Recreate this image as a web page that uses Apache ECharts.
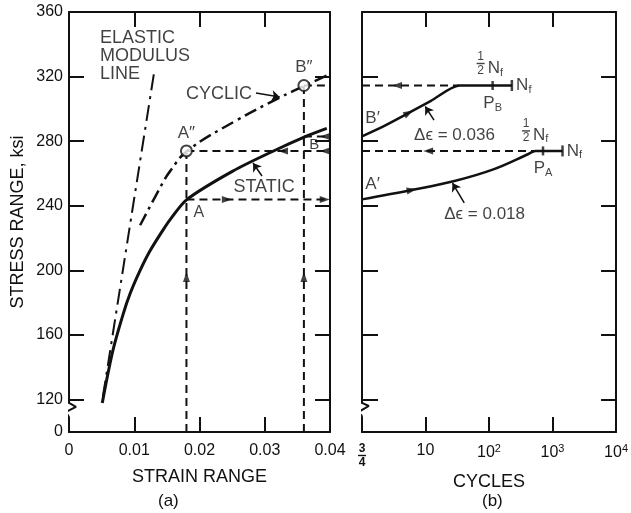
<!DOCTYPE html>
<html>
<head>
<meta charset="utf-8">
<script src="https://cdn.jsdelivr.net/npm/echarts@6.0.0/dist/echarts.min.js"></script>
<style>
html,body{margin:0;padding:0;background:#fff;}
#chart{width:631px;height:513px;}
</style>
</head>
<body>
<div id="chart"></div>
<script>
// ---------------- data ----------------
const stressTickValues  = [120, 160, 200, 240, 280, 320, 360];
const stressLabelValues = [100, 120, 160, 200, 240, 280, 320, 360]; // 100 = broken-axis origin, shown as "0"
const strainMin = 0, strainMax = 0.04, strainStep = 0.01;
const cycleMin = 1, cycleMax = 10000;

// (a) stress–strain curves
const staticStrain  = [0.0051, 0.0067, 0.0083, 0.0094, 0.0109, 0.0124, 0.0144, 0.0155, 0.0181, 0.0251, 0.0311, 0.0363, 0.0395];
const staticStress  = [118, 150, 173, 186, 200, 212, 225, 231.5, 244, 261.5, 273.5, 283, 288];
const cyclicStrain  = [0.0109, 0.0144, 0.0155, 0.0181, 0.0257, 0.0323, 0.0362, 0.0397];
const cyclicStress  = [228, 254.5, 261.5, 274, 293, 307, 314.5, 321];
const elasticStrain = [0.0052, 0.0131];
const elasticStress = [122, 324];

// test levels: A (Δε = 0.018) and B (Δε = 0.036)
const testStrain     = [0.018, 0.036];
const staticLevel    = [244, 283];     // A, B  (= A', B' at first cycle)
const cyclicLevel    = [274, 314.5];   // A'', B'' (= P_A, P_B)

// (b) stress vs cycles
const cyclesA = [1, 6.05, 28.6, 117, 418, 535, 708, 1436];
const stressA = [244, 249.8, 255.4, 262.6, 272.1, 274, 274, 274];
const cyclesB = [1, 2.25, 5.44, 12.2, 34, 114, 229];
const stressB = [283, 289.5, 297.5, 305, 314.5, 314.5, 314.5];
const kneeCycles  = [535, 34];
const halfNf      = [708, 114];
const Nf          = [1436, 229];

// arrowheads on guide lines and curves
const arrowStrain = [0.018, 0.036, 0.0242, 0.0392, 0.0392, 0.0328, 0.0392];
const arrowStressL = [196, 196, 244, 244, 283, 274, 274];
const arrowDirL   = ['up', 'up', 'right', 'right', 'left', 'left', 'left'];
const arrowCycles = [11, 3.56, 6.05, 5.44];
const arrowStressR = [274, 314.5, 249.8, 297.5];
const arrowDirR   = ['left', 'left', 'slopeA', 'slopeB'];

// ---------------- styling / layout ----------------
const FONT = 'Liberation Sans';
const INK = '#111';
const G0 = {left: 69, top: 12, width: 261, height: 420};
const G1 = {left: 362, top: 12, width: 261, height: 420};
const gapStrain = strainMax * (G1.left - G0.left) / G0.width; // strain at the left edge of panel (b)
const rotOf = {up: 0, right: -90, left: 90, slopeA: -79, slopeB: -62};

const zip = (a, b) => a.map((v, i) => [v, b[i]]);
const rich = {
  sub: {fontSize: 11, padding: [9, 0, 0, 0], fontFamily: FONT, color: INK},
  sup: {fontSize: 11, padding: [0, 0, 9, 0], fontFamily: FONT, color: INK},
  fn:  {fontSize: 12, lineHeight: 11, align: 'center', fontFamily: FONT, color: INK},
  fb:  {fontSize: 12, fontWeight: 'bold', lineHeight: 11, align: 'center', fontFamily: FONT, color: INK},
  bar: {width: 8, height: 1.4, backgroundColor: INK, lineHeight: 3, fontSize: 1, align: 'center'},
  t:   {fontSize: 17, fontFamily: FONT, color: INK}
};

function axisCommon(extra) {
  return Object.assign({
    axisLine: {show: true, onZero: false, lineStyle: {color: INK, width: 2}},
    axisTick: {show: true, inside: true, length: 15, lineStyle: {color: INK, width: 2}},
    splitLine: {show: false},
    axisLabel: {show: false}
  }, extra);
}

const xAxes = [
  axisCommon({gridIndex: 0, type: 'value', position: 'bottom', min: strainMin, max: strainMax, interval: strainStep,
    axisLabel: {show: true, margin: 11, fontSize: 16, color: INK, fontFamily: FONT,
      formatter: v => v === 0 ? '0' : v.toFixed(2)},
    name: 'STRAIN RANGE', nameLocation: 'middle', nameGap: 36,
    nameTextStyle: {fontSize: 18, color: INK, fontFamily: FONT}}),
  axisCommon({gridIndex: 0, type: 'value', position: 'top', min: strainMin, max: strainMax, interval: strainStep}),
  axisCommon({gridIndex: 1, type: 'log', logBase: 10, position: 'bottom', min: cycleMin, max: cycleMax,
    axisLabel: {show: true, margin: 11, fontSize: 16, color: INK, fontFamily: FONT, rich: rich,
      showMinLabel: true, showMaxLabel: true,
      formatter: v => {
        if (Math.abs(v - 1) < 1e-9) return '{fb|3}\n{bar| }\n{fb|4}';
        const e = Math.round(Math.log10(v));
        return e === 1 ? '10' : '10{sup|' + e + '}';
      }},
    name: 'CYCLES', nameLocation: 'middle', nameGap: 36,
    nameTextStyle: {fontSize: 18, color: INK, fontFamily: FONT}}),
  axisCommon({gridIndex: 1, type: 'log', logBase: 10, position: 'top', min: cycleMin, max: cycleMax})
];

const yCommon = {type: 'value', min: 100, max: 360, interval: 20};
const yAxes = [
  axisCommon(Object.assign({gridIndex: 0, position: 'left',
    axisTick: {show: true, inside: true, length: 15, customValues: stressTickValues, lineStyle: {color: INK, width: 2}},
    axisLabel: {show: true, margin: 6, fontSize: 16, color: INK, fontFamily: FONT, customValues: stressLabelValues,
      formatter: v => v === 100 ? '0' : String(v)},
    name: 'STRESS RANGE, ksi', nameLocation: 'middle', nameGap: 42, nameRotate: 90,
    nameTextStyle: {fontSize: 18, color: INK, fontFamily: FONT}}, yCommon)),
  axisCommon(Object.assign({gridIndex: 0, position: 'right',
    axisTick: {show: true, inside: true, length: 15, customValues: stressTickValues, lineStyle: {color: INK, width: 2}}}, yCommon)),
  axisCommon(Object.assign({gridIndex: 1, position: 'left',
    axisTick: {show: true, inside: true, length: 16, customValues: stressTickValues, lineStyle: {color: INK, width: 2}}}, yCommon)),
  axisCommon(Object.assign({gridIndex: 1, position: 'right',
    axisTick: {show: true, inside: true, length: 15, customValues: stressTickValues, lineStyle: {color: INK, width: 2}}}, yCommon))
];

function lineS(panel, data, style, extra) {
  return Object.assign({
    type: 'line', xAxisIndex: panel === 0 ? 0 : 2, yAxisIndex: panel === 0 ? 0 : 2,
    data: data, symbol: 'none', silent: true, animation: false, clip: false,
    lineStyle: Object.assign({color: INK, width: 2}, style)
  }, extra || {});
}
const dashed = {type: [8, 5], width: 2};

const series = [];
// axis breaks (white gap + zigzag)
series.push(lineS(0, [[0, 117.5], [0, 109.5]], {color: '#fff', width: 4}));
series.push(lineS(0, [[0, 118], [0.00107, 115.5], [-0.00169, 109.9], [-0.00015, 110.5], [0, 108.7]], {width: 2}));
series.push(lineS(1, [[1, 117.5], [1, 109.5]], {color: '#fff', width: 4}));
series.push(lineS(1, [[1, 118], [1.28, 116.1], [0.728, 110.5], [0.98, 110.5], [1, 108.7]], {width: 2}));

// (a) curves
series.push(lineS(0, zip(elasticStrain, elasticStress), {type: [16, 6, 3, 6], width: 2}));
series.push(lineS(0, zip(staticStrain, staticStress), {width: 3}, {smooth: 0.3}));
series.push(lineS(0, zip(cyclicStrain, cyclicStress), {type: [13, 5, 3, 5], width: 2.5}, {smooth: 0.4}));

// guide lines
testStrain.forEach((s, i) => {
  series.push(lineS(0, [[s, 100], [s, cyclicLevel[i]]], dashed));
  series.push(lineS(0, [[s, staticLevel[i]], [gapStrain, staticLevel[i]]], dashed));
  series.push(lineS(0, [[s, cyclicLevel[i]], [gapStrain, cyclicLevel[i]]], dashed));
  series.push(lineS(1, [[cycleMin, cyclicLevel[i]], [kneeCycles[i], cyclicLevel[i]]], dashed));
});

// (b) curves
series.push(lineS(1, zip(cyclesA, stressA), {width: 2.5}, {smooth: 0.35}));
series.push(lineS(1, zip(cyclesB, stressB), {width: 2.5}, {smooth: 0.25}));

// arrowheads
series.push({type: 'scatter', xAxisIndex: 0, yAxisIndex: 0, silent: true, animation: false, clip: false,
  symbol: 'triangle', symbolSize: [7, 10], itemStyle: {color: INK},
  data: arrowStrain.map((s, i) => ({value: [s, arrowStressL[i]], symbolRotate: rotOf[arrowDirL[i]]}))});
series.push({type: 'scatter', xAxisIndex: 2, yAxisIndex: 2, silent: true, animation: false, clip: false,
  symbol: 'triangle', symbolSize: [7, 10], itemStyle: {color: INK},
  data: arrowCycles.map((c, i) => ({value: [c, arrowStressR[i]], symbolRotate: rotOf[arrowDirR[i]]}))});

// ½Nf and Nf bars on the plateaus, with labels
const Pnames = ['A', 'B'];
const fracOffset = [[-17, -20], [-12, -22]];
const nfOffset = [[-10, -16], [-5, -17]];
series.push({type: 'scatter', xAxisIndex: 2, yAxisIndex: 2, silent: true, animation: false,
  symbol: 'rect', symbolSize: [2.5, 9], itemStyle: {color: INK},
  data: halfNf.map((c, i) => ({value: [c, cyclicLevel[i]],
    label: {show: true, position: 'bottom', distance: 3, formatter: '{t|P}{sub|' + Pnames[i] + '}', rich: rich}}))});
series.push({type: 'scatter', xAxisIndex: 2, yAxisIndex: 2, silent: true, animation: false,
  symbol: 'rect', symbolSize: [2.5, 11], itemStyle: {color: INK},
  data: Nf.map((c, i) => ({value: [c, cyclicLevel[i]],
    label: {show: true, position: 'right', distance: 3, formatter: '{t|N}{sub|f}', rich: rich}}))});
series.push({type: 'scatter', xAxisIndex: 2, yAxisIndex: 2, silent: true, animation: false,
  symbolSize: 0,
  data: halfNf.map((c, i) => ({value: [c, cyclicLevel[i]],
    label: {show: true, position: 'inside', offset: fracOffset[i], formatter: '{fn|1}\n{bar| }\n{fn|2}', rich: rich}}))});
series.push({type: 'scatter', xAxisIndex: 2, yAxisIndex: 2, silent: true, animation: false,
  symbolSize: 0,
  data: halfNf.map((c, i) => ({value: [c, cyclicLevel[i]],
    label: {show: true, position: 'inside', align: 'left', offset: nfOffset[i], formatter: '{t|N}{sub|f}', rich: rich}}))});

// open circles A'' and B''
series.push({type: 'scatter', xAxisIndex: 0, yAxisIndex: 0, silent: true, animation: false, z: 5,
  symbol: 'circle', symbolSize: 11, itemStyle: {color: '#fff', borderColor: INK, borderWidth: 2},
  label: {show: true, position: 'top', distance: 3, fontSize: 17, color: INK, fontFamily: FONT},
  data: testStrain.map((s, i) => ({value: [s, cyclicLevel[i]], label: {formatter: ['A″', 'B″'][i]}}))});

// text annotations with pointer arrows
const noteStyle = {show: true, position: 'inside', fontSize: 18, color: INK, fontFamily: FONT};
const arrowLine = {symbol: ['none', 'arrow'], symbolSize: 8, silent: true, animation: false,
  lineStyle: {color: INK, width: 1.5, type: 'solid'}, label: {show: false}};
series.push({type: 'scatter', xAxisIndex: 0, yAxisIndex: 0, silent: true, animation: false, symbolSize: 0, clip: false,
  data: [
    {value: [0.00475, 332.8], label: Object.assign({}, noteStyle, {formatter: 'ELASTIC\nMODULUS\nLINE', align: 'left', lineHeight: 18})},
    {value: [0.0230, 309.2], label: Object.assign({}, noteStyle, {formatter: 'CYCLIC'})},
    {value: [0.0299, 251.7], label: Object.assign({}, noteStyle, {formatter: 'STATIC'})},
    {value: [0.0199, 235.6], label: Object.assign({}, noteStyle, {formatter: 'A', fontSize: 16})},
    {value: [0.0376, 277.7], label: Object.assign({}, noteStyle, {formatter: 'B', fontSize: 15})}
  ],
  markLine: Object.assign({}, arrowLine, {data: [
    [{coord: [0.02958, 258.5]}, {coord: [0.0282, 266.5]}],
    [{coord: [0.02866, 309.9]}, {coord: [0.0323, 307.4]}]
  ]})});
series.push({type: 'scatter', xAxisIndex: 2, yAxisIndex: 2, silent: true, animation: false, symbolSize: 0, clip: false,
  data: [
    {value: [1.47, 294.4], label: Object.assign({}, noteStyle, {formatter: 'B′', fontSize: 17})},
    {value: [1.47, 253.5], label: Object.assign({}, noteStyle, {formatter: 'A′', fontSize: 17})},
    {value: [28.6, 283.9], label: Object.assign({}, noteStyle, {formatter: 'Δϵ = 0.036', fontSize: 17})},
    {value: [85.3, 234.9], label: Object.assign({}, noteStyle, {formatter: 'Δϵ = 0.018', fontSize: 17})}
  ],
  markLine: Object.assign({}, arrowLine, {data: [
    [{coord: [13.6, 293.1]}, {coord: [9.9, 301.5]}],
    [{coord: [40.7, 241.8]}, {coord: [26.6, 254.1]}]
  ]})});

const chart = echarts.init(document.getElementById('chart'), null, {renderer: 'canvas'});
chart.setOption({
  animation: false,
  backgroundColor: '#fff',
  textStyle: {fontFamily: FONT, color: INK},
  grid: [G0, G1],
  xAxis: xAxes,
  yAxis: yAxes,
  series: series,
  graphic: [
    {type: 'text', left: 158, top: 493, style: {text: '(a)', fontSize: 17, fontFamily: FONT, fill: INK}},
    {type: 'text', left: 482, top: 493, style: {text: '(b)', fontSize: 17, fontFamily: FONT, fill: INK}}
  ]
});
</script>
</body>
</html>
